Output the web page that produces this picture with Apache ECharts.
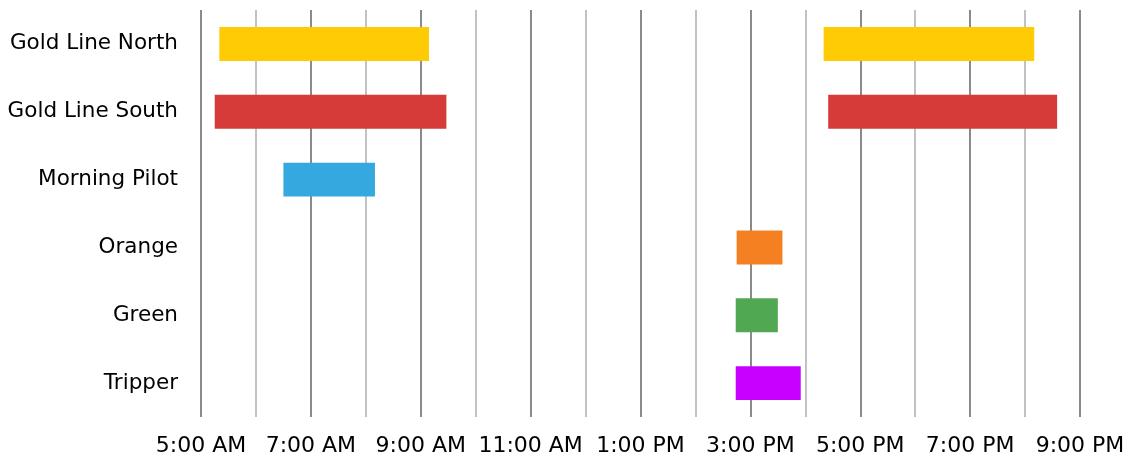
<!DOCTYPE html>
<html>
<head>
<meta charset="utf-8">
<script src="https://cdn.jsdelivr.net/npm/echarts@6/dist/echarts.min.js"></script>
<style>
  html, body { margin: 0; padding: 0; background: #fff; }
  #chart { width: 1133px; height: 460px; }
</style>
</head>
<body>
<div id="chart"></div>
<script>
// Routes, top to bottom
const routes = ['Gold Line North', 'Gold Line South', 'Morning Pilot', 'Orange', 'Green', 'Tripper'];
const routeColors = ['#FFCB05', '#D63B39', '#35A8DF', '#F58022', '#50A853', '#C800FF'];

// Service spans (24h clock)
const tripRoutes = ['Gold Line North', 'Gold Line North', 'Gold Line South', 'Gold Line South', 'Morning Pilot', 'Orange', 'Green', 'Tripper'];
const tripStarts = ['5:20', '16:20', '5:15', '16:25', '6:30', '14:45', '14:44', '14:44'];
const tripEnds   = ['9:09', '20:10', '9:28', '20:35', '8:10', '15:35', '15:30', '15:55'];

// Time axis range in hours
const dayStart = 5;
const dayEnd = 21;

function toHours(s) {
  const parts = s.split(':').map(Number);
  return parts[0] + parts[1] / 60;
}

function timeLabel(v) {
  if ((v - dayStart) % 2 !== 0) return '';
  const suffix = v < 12 ? 'AM' : 'PM';
  const h = v % 12 === 0 ? 12 : v % 12;
  return h + ':00 ' + suffix;
}

const spans = tripRoutes.map(function (r, i) {
  const idx = routes.indexOf(r);
  return {
    value: [idx, toHours(tripStarts[i]), toHours(tripEnds[i])],
    itemStyle: { color: routeColors[idx] }
  };
});

const chart = echarts.init(document.getElementById('chart'), null, { renderer: 'canvas' });

chart.setOption({
  animation: false,
  textStyle: { fontFamily: 'DejaVu Sans' },
  grid: { left: 201, right: 53, top: 10, bottom: 43, containLabel: false },
  xAxis: {
    type: 'value',
    min: dayStart,
    max: dayEnd,
    interval: 1,
    axisLine: { show: false },
    axisTick: { show: false },
    splitLine: {
      show: true,
      lineStyle: { color: ['#8A8A8A', '#C2C2C2'], width: 2 }
    },
    axisLabel: {
      formatter: timeLabel,
      fontSize: 22,
      color: '#000',
      margin: 18,
      fontFamily: 'DejaVu Sans'
    }
  },
  yAxis: {
    type: 'category',
    data: routes,
    inverse: true,
    axisLine: { show: false },
    axisTick: { show: false },
    splitLine: { show: false },
    axisLabel: {
      fontSize: 21.5,
      color: '#000',
      margin: 23,
      fontFamily: 'DejaVu Sans'
    }
  },
  series: [{
    type: 'custom',
    encode: { x: [1, 2], y: 0 },
    data: spans,
    renderItem: function (params, api) {
      const cat = api.value(0);
      const start = api.coord([api.value(1), cat]);
      const end = api.coord([api.value(2), cat]);
      const h = api.size([0, 1])[1] * 0.5;
      return {
        type: 'rect',
        shape: { x: start[0], y: start[1] - h / 2, width: end[0] - start[0], height: h },
        style: { fill: api.visual('color') }
      };
    }
  }]
});
</script>
</body>
</html>
